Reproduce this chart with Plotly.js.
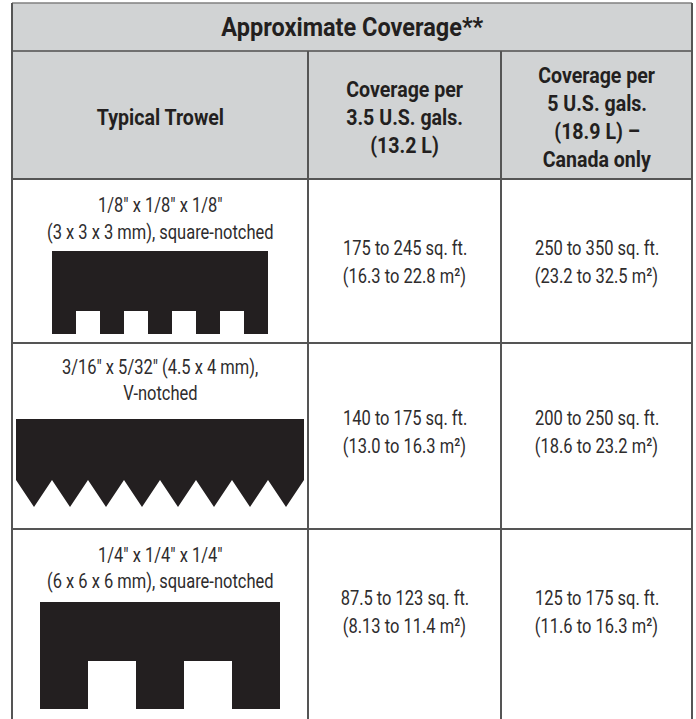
<!DOCTYPE html>
<html><head><meta charset="utf-8">
<script src="https://cdn.plot.ly/plotly-3.0.1.min.js"></script>
<style>html,body{margin:0;padding:0;background:#fff;}#chart{width:696px;height:719px;}</style>
</head><body><div id="chart"></div>
<script>
// ---------- data ----------
const tableTitle = 'Approximate Coverage**';
const header1 = ['Typical Trowel'];
const header2 = ['Coverage per', '3.5 U.S. gals.', '(13.2 L)'];
const header3 = ['Coverage per', '5 U.S. gals.', '(18.9 L) –', 'Canada only'];
const trowelSize = ['1/8" x 1/8" x 1/8"', '3/16" x 5/32" (4.5 x 4 mm),', '1/4" x 1/4" x 1/4"'];
const trowelNotch = ['(3 x 3 x 3 mm), square-notched', 'V-notched', '(6 x 6 x 6 mm), square-notched'];
const notchShape = ['square', 'V', 'square'];
const notchCount = [4, 8, 2];
const sqft35 = ['175 to 245', '140 to 175', '87.5 to 123'];
const m2_35 = ['16.3 to 22.8', '13.0 to 16.3', '8.13 to 11.4'];
const sqft5 = ['250 to 350', '200 to 250', '125 to 175'];
const m2_5 = ['23.2 to 32.5', '18.6 to 23.2', '11.6 to 16.3'];

// ---------- layout geometry ----------
const W = 696, H = 719;
const colX = [12, 308, 501, 692];
const titleY = [3, 51];
const headY = [51, 179];
const rowY = [179, 343, 529, 722];
const labelY = [[205, 232], [367, 393], [555, 581]];
const covY = [[248, 276], [418, 446], [598, 626]];
const trowelBox = [ // x0, x1, top, notchTop, bottom
  [52, 268, 251, 311, 334],
  [16, 304, 419, 480, 507],
  [40, 280, 602, 661, 709]
];
const INK = '#231f20', TXT = '#2e2c2d', GRID = '#555555', BAND = '#d1d3d4';
const FONT = 'Roboto, Liberation Sans, sans-serif';
// horizontal condensing of each text class (reference uses a condensed face)
const SQUEEZE = {title: 0.94, head: 0.89, body: 0.785};

function squareTrowel(b, n) {
  const [x0, x1, yt, yn, yb] = b, seg = 2 * n + 1, w = (x1 - x0) / seg;
  const xs = [x0, x1, x1], ys = [yt, yt, yb];
  for (let i = seg - 1; i >= 0; i--) {
    const y = (i % 2 === 1) ? yn : yb;
    xs.push(x0 + (i + 1) * w, x0 + i * w); ys.push(y, y);
  }
  xs.push(x0); ys.push(yt);
  return [xs, ys];
}
function vTrowel(b, n) {
  const [x0, x1, yt, yv, ytip] = b, w = (x1 - x0) / n;
  const xs = [x0, x1, x1], ys = [yt, yt, yv];
  for (let i = n - 1; i >= 0; i--) {
    xs.push(x0 + (i + 0.5) * w, x0 + i * w); ys.push(ytip, yv);
  }
  xs.push(x0); ys.push(yt);
  return [xs, ys];
}

const traces = notchShape.map((s, i) => {
  const [xs, ys] = s === 'V' ? vTrowel(trowelBox[i], notchCount[i]) : squareTrowel(trowelBox[i], notchCount[i]);
  return {x: xs, y: ys, type: 'scatter', mode: 'lines', fill: 'toself', fillcolor: INK,
          line: {width: 0, color: INK}, hoverinfo: 'skip', showlegend: false};
});

const shapes = [
  {type: 'rect', x0: colX[0], x1: colX[3], y0: titleY[0], y1: headY[1], fillcolor: BAND, line: {width: 0}, layer: 'below'},
  {type: 'line', x0: colX[0], x1: colX[3], y0: titleY[0], y1: titleY[0], line: {color: '#808080', width: 1.5}},
  {type: 'line', x0: colX[0], x1: colX[3], y0: titleY[1], y1: titleY[1], line: {color: '#707070', width: 2}},
];
[headY[1], rowY[1], rowY[2]].forEach(y => shapes.push({type: 'line', x0: colX[0], x1: colX[3], y0: y, y1: y, line: {color: GRID, width: 2}}));
shapes.push({type: 'line', x0: colX[0], x1: colX[0], y0: titleY[0], y1: H, line: {color: GRID, width: 2}});
shapes.push({type: 'line', x0: colX[3], x1: colX[3], y0: titleY[0], y1: H, line: {color: GRID, width: 2}});
[colX[1], colX[2]].forEach(x => shapes.push({type: 'line', x0: x, x1: x, y0: headY[0], y1: H, line: {color: GRID, width: 2}}));

const annotations = [], squeeze = [];
function addText(text, x, y, size, kind) {
  const bold = kind !== 'body';
  annotations.push({text: text, x: x, y: y, xref: 'x', yref: 'y', showarrow: false,
    xanchor: 'center', yanchor: 'middle',
    font: {family: FONT, size: size, color: bold ? INK : TXT, weight: bold ? 'bold' : 'normal'}});
  squeeze.push(SQUEEZE[kind]);
}
const cx = [(colX[0] + colX[1]) / 2, (colX[1] + colX[2]) / 2, (colX[2] + colX[3]) / 2];
addText(tableTitle, (colX[0] + colX[3]) / 2, 27, 25, 'title');
header1.forEach((t, i) => addText(t, cx[0], 117, 22, 'head'));
header2.forEach((t, i) => addText(t, cx[1], 89 + i * 28, 22, 'head'));
header3.forEach((t, i) => addText(t, cx[2], 75 + i * 28, 22, 'head'));
for (let r = 0; r < 3; r++) {
  addText(trowelSize[r], cx[0], labelY[r][0], 21, 'body');
  addText(trowelNotch[r], cx[0], labelY[r][1], 21, 'body');
  addText(sqft35[r] + ' sq. ft.', cx[1], covY[r][0], 21, 'body');
  addText('(' + m2_35[r] + ' m²)', cx[1], covY[r][1], 21, 'body');
  addText(sqft5[r] + ' sq. ft.', cx[2], covY[r][0], 21, 'body');
  addText('(' + m2_5[r] + ' m²)', cx[2], covY[r][1], 21, 'body');
}

Plotly.newPlot('chart', traces, {
  width: W, height: H, margin: {l: 0, r: 0, t: 0, b: 0},
  paper_bgcolor: '#fff', plot_bgcolor: '#fff',
  xaxis: {range: [0, W], visible: false, fixedrange: true},
  yaxis: {range: [H, 0], visible: false, fixedrange: true},
  shapes: shapes, annotations: annotations, showlegend: false
}, {displayModeBar: false, staticPlot: true}).then(gd => {
  gd.querySelectorAll('g.annotation').forEach(g => {
    const i = +g.getAttribute('data-index');
    const t = g.querySelector('text.annotation-text');
    if (!t) return;
    const w = t.getComputedTextLength();
    t.setAttribute('textLength', (w * squeeze[i]).toFixed(1));
    t.setAttribute('lengthAdjust', 'spacingAndGlyphs');
  });
});
</script></body></html>
